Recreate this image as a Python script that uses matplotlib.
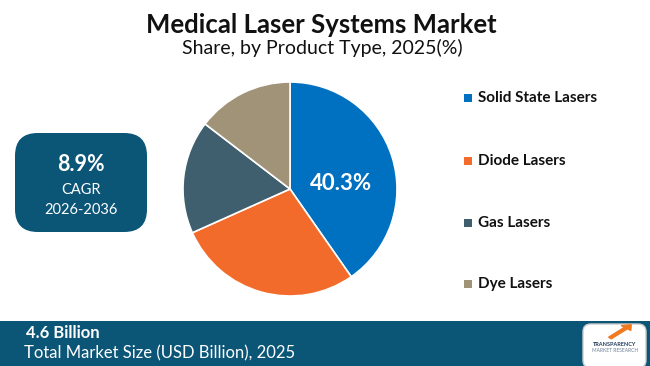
import matplotlib.pyplot as plt
from matplotlib.patches import FancyBboxPatch, Rectangle, FancyArrow

# data
categories = ['Solid State Lasers', 'Diode Lasers', 'Gas Lasers', 'Dye Lasers']
shares = [40.3, 28.0, 17.1, 14.6]
colors = ['#0070C0', '#F26B2A', '#3F5F6F', '#A09377']
cagr = '8.9%'
cagr_period = '2026-2036'
market_size = '4.6 Billion'

W, H = 650, 366
navy = '#0B5577'

plt.rcParams['font.family'] = ['Lato', 'DejaVu Sans']

fig = plt.figure(figsize=(W / 100, H / 100), dpi=100)
fig.patch.set_facecolor('white')


def fx(x):
    return x / W


def fy(y):
    return 1 - y / H


# titles
fig.text(fx(321), fy(25), 'Medical Laser Systems Market', ha='center', va='center',
         fontsize=18.5, fontweight='bold', color='#111111')
fig.text(fx(322), fy(48), 'Share, by Product Type, 2025(%)', ha='center', va='center',
         fontsize=14, color='#111111')

# pie
cx, cy, r = 290, 189, 107
ax = fig.add_axes([fx(cx - r), fy(cy + r), 2 * r / W, 2 * r / H])
ax.pie(shares, colors=colors, startangle=90, counterclock=False,
       wedgeprops=dict(edgecolor='white', linewidth=1.2))
ax.set_xlim(-1, 1)
ax.set_ylim(-1, 1)
ax.set_aspect('equal')
ax.axis('off')
ax.text(0.48, 0.05, f'{shares[0]}%', ha='center', va='center', color='white',
        fontsize=16, fontweight='bold')

# legend
legend_y = [98, 161, 223, 284]
for name, col, ly in zip(categories, colors, legend_y):
    fig.patches.append(Rectangle((fx(464), fy(ly + 4)), 8 / W, 8 / H, transform=fig.transFigure,
                                 facecolor=col, edgecolor='none'))
    fig.text(fx(478), fy(ly), name, ha='left', va='center', fontsize=11,
             fontweight='bold', color='#111111')

# CAGR box
fig.patches.append(FancyBboxPatch((fx(15), fy(232)), 132 / W, 99 / H,
                                  boxstyle='round,pad=0,rounding_size=0.035',
                                  transform=fig.transFigure, facecolor=navy, edgecolor='none',
                                  mutation_aspect=W / H))
fig.text(fx(81), fy(164), cagr, ha='center', va='center', fontsize=15.5,
         fontweight='bold', color='white')
fig.text(fx(81), fy(190), 'CAGR', ha='center', va='center', fontsize=10.5, color='white')
fig.text(fx(81), fy(210), cagr_period, ha='center', va='center', fontsize=10.5, color='white')

# footer band
fig.patches.append(Rectangle((0, 0), 1, 45 / H, transform=fig.transFigure,
                             facecolor=navy, edgecolor='none'))
fig.text(fx(26), fy(333), market_size, ha='left', va='center', fontsize=12,
         fontweight='bold', color='white')
fig.text(fx(24), fy(353), 'Total Market Size (USD Billion), 2025', ha='left', va='center',
         fontsize=12, color='white')

# logo
fig.patches.append(FancyBboxPatch((fx(583), fy(368)), 63 / W, 44 / H,
                                  boxstyle='round,pad=0,rounding_size=0.012',
                                  transform=fig.transFigure, facecolor='white', edgecolor='#CCCCCC',
                                  mutation_aspect=W / H))
fig.patches.append(FancyArrow(fx(610), fy(338), 16 / W, 10 / H, width=0.006, head_width=0.02,
                              head_length=0.012, transform=fig.transFigure,
                              color='#F07A20'))
fig.text(fx(615), fy(345), 'TRANSPARENCY', ha='center', va='center', fontsize=4,
         fontweight='bold', color='#1F3B5A')
fig.text(fx(615), fy(351), 'MARKET RESEARCH', ha='center', va='center', fontsize=3.5,
         color='#6A7F95')

fig.savefig('out.png', dpi=100)
